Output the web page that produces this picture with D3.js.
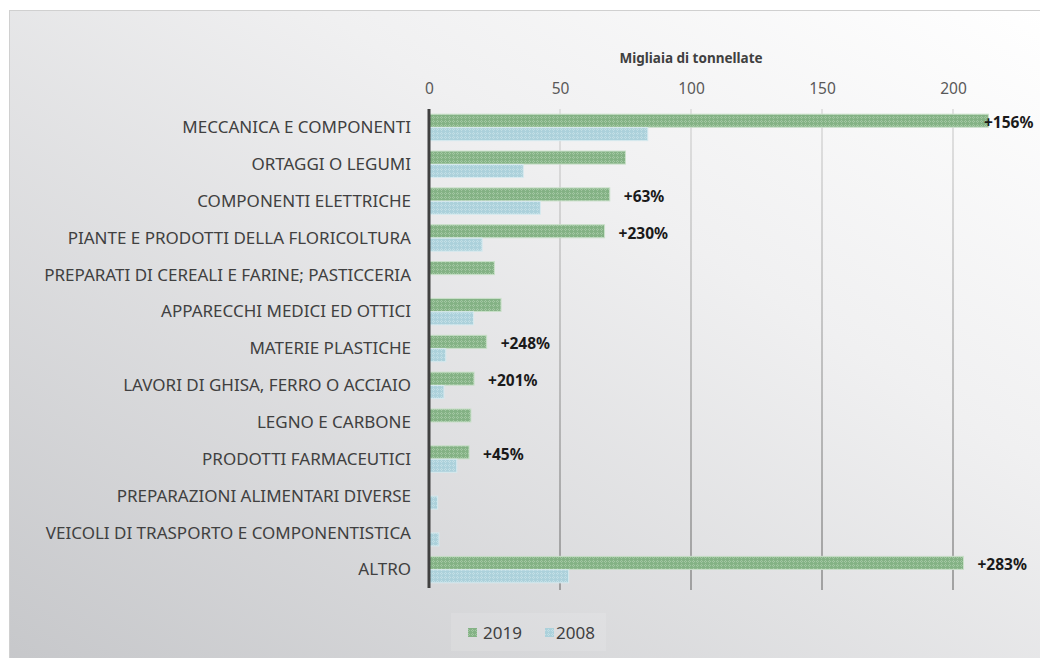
<!DOCTYPE html>
<html>
<head>
<meta charset="utf-8">
<script src="https://cdn.jsdelivr.net/npm/d3@7"></script>
<style>
  html, body { margin: 0; padding: 0; background: #fff; }
  svg { display: block; font-family: "Noto Sans", Lato, sans-serif; }
</style>
</head>
<body>
<div id="chart"></div>
<script>
// Data (thousand tonnes)
const categories = [
    'MECCANICA E COMPONENTI',
    'ORTAGGI O LEGUMI',
    'COMPONENTI ELETTRICHE',
    'PIANTE E PRODOTTI DELLA FLORICOLTURA',
    'PREPARATI DI CEREALI E FARINE; PASTICCERIA',
    'APPARECCHI MEDICI ED OTTICI',
    'MATERIE PLASTICHE ',
    'LAVORI DI GHISA, FERRO O ACCIAIO',
    'LEGNO E CARBONE',
    'PRODOTTI FARMACEUTICI',
    'PREPARAZIONI ALIMENTARI DIVERSE',
    'VEICOLI DI TRASPORTO E COMPONENTISTICA',
    'ALTRO'
];
const values2019 = [213.5, 75, 69, 67, 25, 27.5, 22, 17.2, 16, 15.3, 0, 0, 204];
const values2008 = [83.5, 36, 42.5, 20.3, 0, 17, 6.4, 5.7, 0, 10.6, 3.3, 3.8, 53.3];
const changeLabels = ['+156%', '', '+63%', '+230%', '', '', '+248%', '+201%', '', '+45%', '', '', '+283%'];
const seriesNames = ['2019', '2008'];
const xTicks = [0, 50, 100, 150, 200];

const W = 1040, H = 658;
const margin = { top: 109, bottom: 588, left: 429 };

const svg = d3.select('#chart')
    .append('svg')
    .attr('width', W)
    .attr('height', H);

const defs = svg.append('defs');

// Background gradient: light top-right, grey bottom-left
const bg = defs.append('linearGradient')
    .attr('id', 'bg')
    .attr('x1', '100%').attr('y1', '0%')
    .attr('x2', '0%').attr('y2', '100%');
bg.append('stop').attr('offset', '0%').attr('stop-color', '#ffffff');
bg.append('stop').attr('offset', '35%').attr('stop-color', '#f0f0f1');
bg.append('stop').attr('offset', '100%').attr('stop-color', '#c6c7ca');

// Grid line gradient (lighter near top)
const gg = defs.append('linearGradient')
    .attr('id', 'gridGrad')
    .attr('gradientUnits', 'userSpaceOnUse')
    .attr('x1', 0).attr('y1', 109)
    .attr('x2', 0).attr('y2', 590);
gg.append('stop').attr('offset', '0%').attr('stop-color', '#dadada');
gg.append('stop').attr('offset', '100%').attr('stop-color', '#8a8a8a');

// Bar fill patterns (small cross texture)
function makePattern(id, base, light) {
    const p = defs.append('pattern')
        .attr('id', id)
        .attr('patternUnits', 'userSpaceOnUse')
        .attr('width', 4).attr('height', 4);
    p.append('rect').attr('width', 4).attr('height', 4).attr('fill', base);
    [[1, 0], [0, 1], [2, 1], [1, 2]].forEach(([px, py]) => {
        p.append('rect').attr('x', px).attr('y', py)
            .attr('width', 1).attr('height', 1).attr('fill', light);
    });
}
makePattern('pat2019', '#84b285', '#a3c7a3');
makePattern('pat2008', '#acd1db', '#c3dfe6');

// Chart area with frame
svg.append('rect')
    .attr('x', 9.5).attr('y', 10.5)
    .attr('width', W).attr('height', H)
    .attr('fill', 'url(#bg)')
    .attr('stroke', '#d0d0d0');

// Scales
const x = d3.scaleLinear()
    .domain([0, 215])
    .range([margin.left, margin.left + 2.62 * 215]);

const y = d3.scaleBand()
    .domain(categories)
    .range([margin.top, margin.bottom])
    .paddingInner(0.26)
    .paddingOuter(0.13);

const ySub = d3.scaleBand()
    .domain(seriesNames)
    .range([0, y.bandwidth()])
    .padding(0.03);

// Grid lines
svg.append('g')
    .selectAll('line')
    .data(xTicks.slice(1))
    .join('line')
    .attr('x1', d => x(d)).attr('x2', d => x(d))
    .attr('y1', margin.top).attr('y2', margin.bottom + 2)
    .attr('stroke', 'url(#gridGrad)')
    .attr('stroke-width', 1.5);

// Top axis
const xAxis = d3.axisTop(x)
    .tickValues(xTicks)
    .tickSize(0)
    .tickPadding(0);

const axisG = svg.append('g')
    .attr('transform', 'translate(0,94)')
    .call(xAxis);
axisG.select('.domain').remove();
axisG.selectAll('text')
    .attr('font-family', '"Noto Sans", sans-serif')
    .attr('font-size', 15.5)
    .attr('fill', '#595959');

svg.append('text')
    .attr('x', x(100))
    .attr('y', 63)
    .attr('text-anchor', 'middle')
    .attr('font-size', 13.5)
    .attr('font-weight', 'bold')
    .attr('fill', '#404040')
    .text('Migliaia di tonnellate');

// Bars
const series = [
    { name: '2019', values: values2019, fill: 'url(#pat2019)', stroke: '#c9e0c9' },
    { name: '2008', values: values2008, fill: 'url(#pat2008)', stroke: '#d7eaef' }
];

series.forEach(s => {
    svg.append('g')
        .selectAll('rect')
        .data(categories.map((c, i) => ({ c, v: s.values[i] })).filter(d => d.v > 0))
        .join('rect')
        .attr('x', x(0))
        .attr('y', d => y(d.c) + ySub(s.name))
        .attr('width', d => x(d.v) - x(0))
        .attr('height', ySub.bandwidth())
        .attr('fill', s.fill)
        .attr('stroke', s.stroke)
        .attr('stroke-width', 1);
});

// Left axis line and category labels
svg.append('line')
    .attr('x1', x(0)).attr('x2', x(0))
    .attr('y1', margin.top).attr('y2', margin.bottom)
    .attr('stroke', '#404040')
    .attr('stroke-width', 3);

const yAxis = d3.axisLeft(y).tickSize(0).tickPadding(18);
const yG = svg.append('g')
    .attr('transform', `translate(${x(0)},0)`)
    .call(yAxis);
yG.select('.domain').remove();
yG.selectAll('text')
    .attr('font-family', '"Noto Sans", sans-serif')
    .attr('font-size', 17)
    .attr('fill', '#404040')
    .attr('dy', '0.34em');

// Change labels next to the 2019 bar
svg.append('g')
    .selectAll('text')
    .data(categories.map((c, i) => ({ c, v: values2019[i], t: changeLabels[i] })).filter(d => d.t))
    .join('text')
    .attr('x', d => Math.min(x(d.v) + 14, 1037 - 53))
    .attr('y', d => y(d.c) + ySub('2019') + ySub.bandwidth() / 2 + 2)
    .attr('dy', '0.35em')
    .attr('font-size', 15.5)
    .attr('font-weight', 'bold')
    .attr('fill', '#1a1a1a')
    .text(d => d.t);

// Legend
const legend = svg.append('g').attr('transform', 'translate(451,613)');
legend.append('rect')
    .attr('width', 155).attr('height', 38)
    .attr('fill', '#ffffff').attr('opacity', 0.12);
const items = [
    { name: '2019', fill: 'url(#pat2019)', sx: 17, tx: 32 },
    { name: '2008', fill: 'url(#pat2008)', sx: 94, tx: 105 }
];
items.forEach(it => {
    legend.append('rect')
        .attr('x', it.sx).attr('y', 15)
        .attr('width', 9).attr('height', 9)
        .attr('fill', it.fill);
    legend.append('text')
        .attr('x', it.tx).attr('y', 20)
        .attr('dy', '0.35em')
        .attr('font-size', 17)
        .attr('fill', '#404040')
        .text(it.name);
});
</script>
</body>
</html>
